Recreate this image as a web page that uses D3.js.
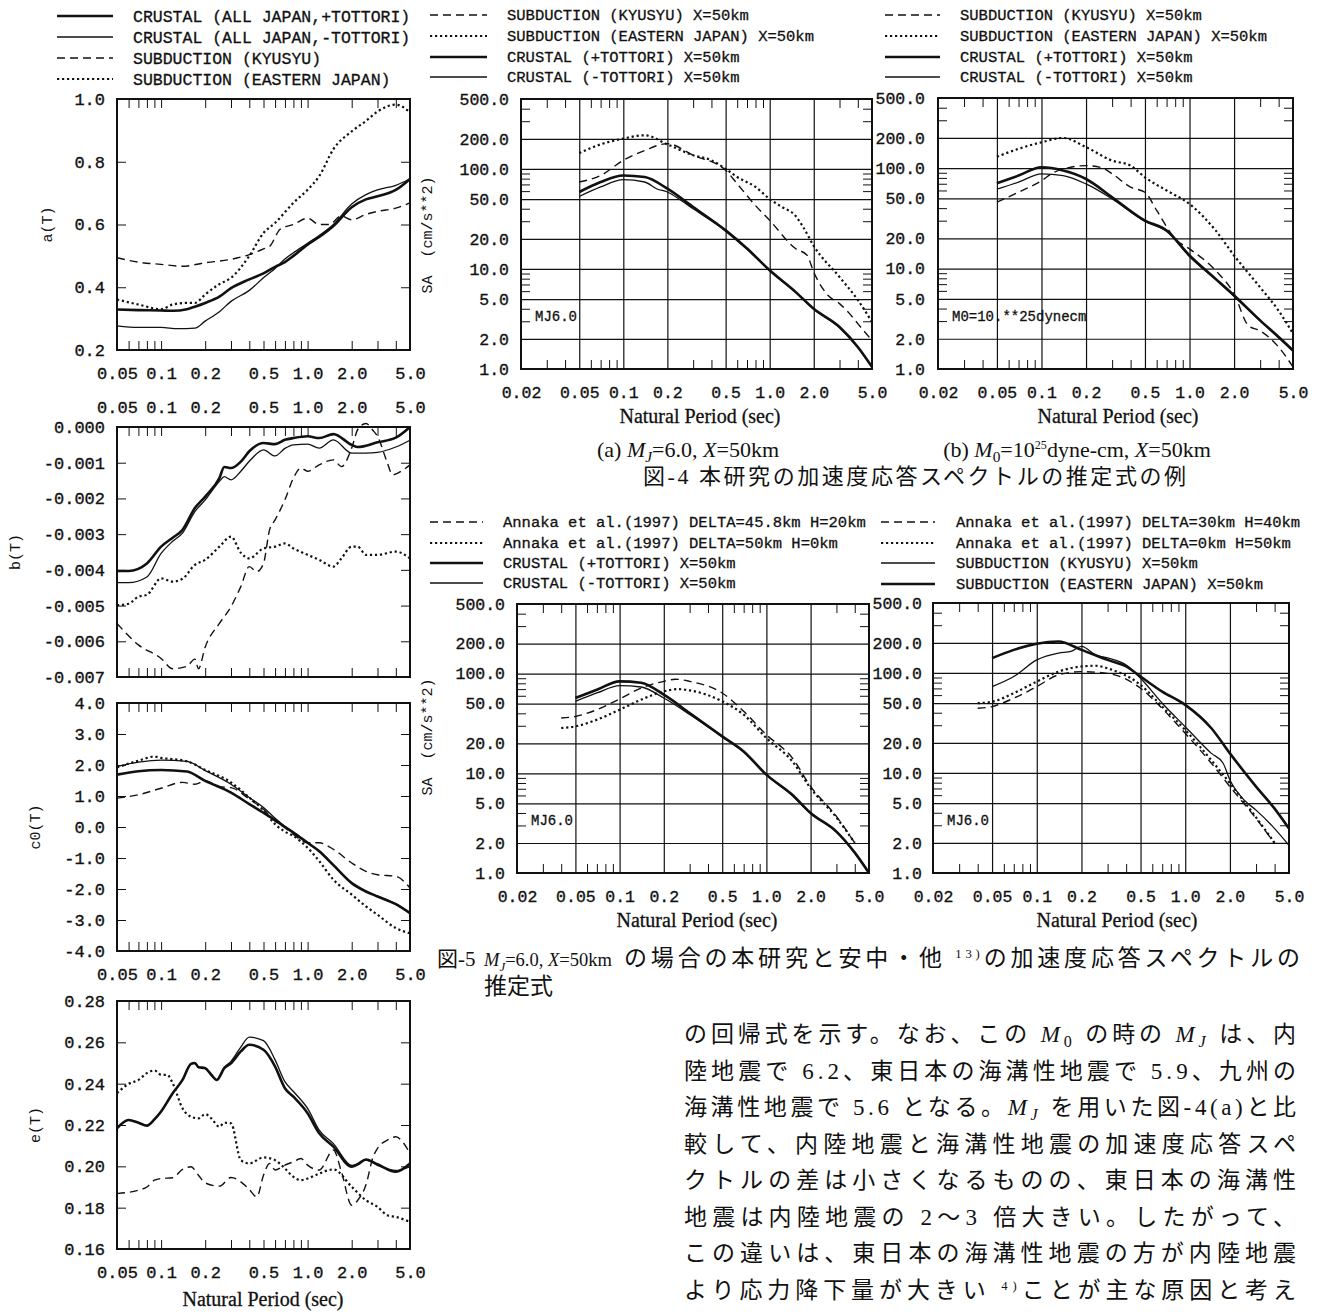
<!DOCTYPE html>
<html>
<head>
<meta charset="utf-8">
<script src="https://cdn.jsdelivr.net/npm/d3@7"></script>
<style>
  body { margin: 0; background: #fff; }
</style>
</head>
<body>
<div id="chart"></div>
<script>
// tick values and labels
const leftPeriodTicks = [0.05, 0.1, 0.2, 0.5, 1.0, 2.0, 5.0]
const leftPeriodLabels = ["0.05", "0.1", "0.2", "0.5", "1.0", "2.0", "5.0"]
const saPeriodTicks = [0.02, 0.05, 0.1, 0.2, 0.5, 1.0, 2.0, 5.0]
const saPeriodLabels = ["0.02", "0.05", "0.1", "0.2", "0.5", "1.0", "2.0", "5.0"]
const saGridPeriods = [0.05, 0.1, 0.2, 0.5, 1.0, 2.0]
const saValueTicks = [1, 2, 5, 10, 20, 50, 100, 200, 500]
const saValueLabels = ["1.0", "2.0", "5.0", "10.0", "20.0", "50.0", "100.0", "200.0", "500.0"]
const saGridValues = [2, 5, 10, 20, 50, 100, 200]

const aTicks = [0.2, 0.4, 0.6, 0.8, 1.0]
const aLabels = ["0.2", "0.4", "0.6", "0.8", "1.0"]
const bTicks = [-0.007, -0.006, -0.005, -0.004, -0.003, -0.002, -0.001, 0]
const bLabels = ["-0.007", "-0.006", "-0.005", "-0.004", "-0.003", "-0.002", "-0.001", "0.000"]
const c0Ticks = [-4, -3, -2, -1, 0, 1, 2, 3, 4]
const c0Labels = ["-4.0", "-3.0", "-2.0", "-1.0", "0.0", "1.0", "2.0", "3.0", "4.0"]
const eTicks = [0.16, 0.18, 0.20, 0.22, 0.24, 0.26, 0.28]
const eLabels = ["0.16", "0.18", "0.20", "0.22", "0.24", "0.26", "0.28"]

// legend texts
const legendCoef = ["CRUSTAL (ALL JAPAN,+TOTTORI)", "CRUSTAL (ALL JAPAN,-TOTTORI)", "SUBDUCTION (KYUSYU)", "SUBDUCTION (EASTERN JAPAN)"]
const legendFig4 = ["SUBDUCTION (KYUSYU) X=50km", "SUBDUCTION (EASTERN JAPAN) X=50km", "CRUSTAL (+TOTTORI) X=50km", "CRUSTAL (-TOTTORI) X=50km"]
const legendFig5a = ["Annaka et al.(1997) DELTA=45.8km H=20km", "Annaka et al.(1997) DELTA=50km H=0km", "CRUSTAL (+TOTTORI) X=50km", "CRUSTAL (-TOTTORI) X=50km"]
const legendFig5b = ["Annaka et al.(1997) DELTA=30km H=40km", "Annaka et al.(1997) DELTA=0km H=50km", "SUBDUCTION (KYUSYU) X=50km", "SUBDUCTION (EASTERN JAPAN) X=50km"]

// coefficient a(T): [period, value]
const aCrusPlus = [[0.05,0.329],[0.07,0.327],[0.1,0.326],[0.12,0.325],[0.15,0.33],[0.17,0.338],[0.2,0.35],[0.25,0.37],[0.3,0.397],[0.4,0.425],[0.5,0.444],[0.6,0.465],[0.7,0.48],[0.8,0.50],[1.0,0.536],[1.2,0.56],[1.5,0.595],[2.0,0.655],[2.5,0.68],[3.0,0.69],[4.0,0.71],[5.0,0.745]]
const aCrusMinus = [[0.05,0.277],[0.07,0.272],[0.1,0.272],[0.13,0.268],[0.17,0.27],[0.2,0.292],[0.25,0.322],[0.3,0.355],[0.4,0.39],[0.5,0.43],[0.6,0.46],[0.7,0.49],[0.8,0.51],[1.0,0.54],[1.2,0.565],[1.5,0.60],[2.0,0.665],[2.5,0.695],[3.0,0.71],[4.0,0.725],[5.0,0.745]]
const aKyusyu = [[0.05,0.494],[0.07,0.48],[0.1,0.473],[0.14,0.467],[0.2,0.478],[0.3,0.489],[0.4,0.504],[0.5,0.522],[0.55,0.53],[0.65,0.585],[0.8,0.60],[1.0,0.62],[1.2,0.60],[1.4,0.60],[1.7,0.627],[2.0,0.615],[2.5,0.632],[3.0,0.642],[4.0,0.652],[5.0,0.669]]
const aEastern = [[0.05,0.361],[0.07,0.345],[0.1,0.33],[0.12,0.345],[0.15,0.35],[0.17,0.35],[0.2,0.377],[0.25,0.41],[0.3,0.43],[0.4,0.50],[0.5,0.573],[0.6,0.605],[0.8,0.669],[1.0,0.711],[1.2,0.754],[1.5,0.84],[2.0,0.897],[2.5,0.93],[3.0,0.96],[4.0,0.982],[5.0,0.958]]

// coefficient b(T)
const bCrusPlus = [[0.05,-0.00403],[0.06,-0.00403],[0.08,-0.00382],[0.1,-0.00335],[0.12,-0.0031],[0.14,-0.00288],[0.17,-0.00227],[0.2,-0.00195],[0.25,-0.00143],[0.27,-0.00112],[0.3,-0.00115],[0.35,-0.00097],[0.4,-0.00068],[0.5,-0.00045],[0.6,-0.00048],[0.7,-0.00036],[0.8,-0.00031],[1.0,-0.00026],[1.2,-0.00031],[1.5,-0.0002],[2.0,-0.0005],[2.2,-0.00056],[3.0,-0.00043],[4.0,-0.0003],[5.0,0.0]]
const bCrusMinus = [[0.05,-0.00436],[0.06,-0.00436],[0.08,-0.0042],[0.1,-0.00354],[0.12,-0.0032],[0.14,-0.00297],[0.17,-0.00237],[0.2,-0.00204],[0.25,-0.00152],[0.27,-0.00139],[0.3,-0.00148],[0.35,-0.00124],[0.4,-0.00096],[0.5,-0.00064],[0.6,-0.00081],[0.7,-0.0006],[0.8,-0.0005],[1.0,-0.00048],[1.2,-0.00059],[1.5,-0.00036],[2.0,-0.00073],[2.5,-0.00073],[3.0,-0.00071],[4.0,-0.00056],[5.0,-0.00037]]
const bKyusyu = [[0.05,-0.0055],[0.07,-0.0061],[0.1,-0.00648],[0.12,-0.00677],[0.15,-0.0067],[0.17,-0.0065],[0.18,-0.00677],[0.2,-0.00616],[0.25,-0.0055],[0.3,-0.00503],[0.35,-0.00447],[0.4,-0.00391],[0.45,-0.00405],[0.5,-0.00382],[0.55,-0.00288],[0.6,-0.0026],[0.7,-0.00204],[0.8,-0.00143],[0.9,-0.00115],[1.0,-0.00124],[1.2,-0.00106],[1.5,-0.00092],[1.7,-0.00111],[2.0,-0.00059],[2.2,-0.00007],[2.5,0.0001],[2.8,-0.0001],[3.0,-0.00026],[3.5,-0.001],[3.8,-0.00134],[4.5,-0.0012],[5.0,-0.00106]]
const bEastern = [[0.05,-0.00499],[0.06,-0.00495],[0.07,-0.00475],[0.08,-0.0047],[0.1,-0.00424],[0.12,-0.00433],[0.14,-0.00425],[0.17,-0.00386],[0.2,-0.00372],[0.25,-0.00335],[0.3,-0.00307],[0.35,-0.00352],[0.4,-0.00368],[0.5,-0.0034],[0.6,-0.00335],[0.7,-0.00326],[0.8,-0.0034],[1.0,-0.00358],[1.2,-0.00372],[1.5,-0.00391],[1.7,-0.00368],[2.0,-0.00335],[2.2,-0.00335],[2.5,-0.00358],[3.0,-0.00358],[4.0,-0.00349],[5.0,-0.00368]]

// coefficient c0(T)
const cCrusPlus = [[0.05,1.69],[0.07,1.8],[0.1,1.84],[0.15,1.79],[0.2,1.49],[0.3,1.11],[0.4,0.74],[0.5,0.46],[0.6,0.22],[0.7,0.0],[0.8,-0.18],[1.0,-0.51],[1.2,-0.78],[1.5,-1.23],[2.0,-1.81],[2.5,-2.08],[3.0,-2.24],[4.0,-2.49],[5.0,-2.78]]
const cCrusMinus = [[0.05,1.95],[0.07,2.09],[0.1,2.16],[0.15,2.12],[0.2,1.82],[0.3,1.38],[0.4,0.95],[0.5,0.63],[0.6,0.28],[0.7,0.02],[0.8,-0.17],[1.0,-0.5],[1.2,-0.77],[1.5,-1.22],[2.0,-1.8],[2.5,-2.07],[3.0,-2.23],[4.0,-2.48],[5.0,-2.77]]
const cKyusyu = [[0.05,0.93],[0.07,1.04],[0.1,1.25],[0.14,1.44],[0.17,1.38],[0.2,1.49],[0.25,1.3],[0.3,1.27],[0.4,0.9],[0.5,0.57],[0.6,0.19],[0.7,-0.02],[0.8,-0.24],[1.0,-0.51],[1.2,-0.51],[1.5,-0.72],[2.0,-1.16],[2.5,-1.43],[3.0,-1.54],[4.0,-1.59],[5.0,-1.97]]
const cEastern = [[0.05,1.92],[0.07,2.14],[0.09,2.27],[0.1,2.23],[0.15,2.12],[0.2,1.84],[0.3,1.44],[0.4,0.95],[0.5,0.54],[0.6,0.09],[0.7,-0.15],[0.8,-0.29],[1.0,-0.67],[1.2,-1.1],[1.5,-1.7],[2.0,-2.18],[2.5,-2.56],[3.0,-2.83],[4.0,-3.26],[5.0,-3.43]]

// coefficient e(T)
const eCrusPlus = [[0.05,0.2184],[0.06,0.2224],[0.07,0.2211],[0.08,0.2197],[0.09,0.2227],[0.1,0.2265],[0.12,0.2354],[0.14,0.2418],[0.16,0.2496],[0.17,0.25],[0.18,0.248],[0.2,0.2475],[0.22,0.2443],[0.24,0.2418],[0.27,0.2475],[0.3,0.2499],[0.35,0.2556],[0.4,0.2588],[0.5,0.2564],[0.6,0.2483],[0.7,0.2378],[0.8,0.2337],[1.0,0.2257],[1.2,0.216],[1.5,0.2095],[2.0,0.1998],[2.2,0.201],[2.5,0.2033],[3.0,0.201],[4.0,0.1974],[5.0,0.2014]]
const eCrusMinus = [[0.05,0.2184],[0.06,0.2224],[0.07,0.2211],[0.08,0.2197],[0.09,0.2227],[0.1,0.2265],[0.12,0.2354],[0.14,0.2418],[0.16,0.2496],[0.17,0.25],[0.18,0.248],[0.2,0.2475],[0.22,0.2443],[0.24,0.2418],[0.27,0.248],[0.3,0.2508],[0.35,0.2577],[0.4,0.2625],[0.5,0.2608],[0.6,0.2515],[0.7,0.241],[0.8,0.2362],[1.0,0.228],[1.2,0.2175],[1.5,0.211],[2.0,0.2005],[2.2,0.2012],[2.5,0.203],[3.0,0.2005],[4.0,0.198],[5.0,0.1998]]
const eKyusyu = [[0.05,0.1868],[0.07,0.1885],[0.08,0.19],[0.09,0.1933],[0.1,0.1941],[0.12,0.1945],[0.14,0.1985],[0.16,0.1998],[0.18,0.1957],[0.2,0.192],[0.25,0.1904],[0.3,0.1946],[0.35,0.1925],[0.4,0.1888],[0.45,0.1852],[0.5,0.1957],[0.55,0.2014],[0.6,0.1982],[0.7,0.2006],[0.8,0.2022],[0.9,0.2038],[1.0,0.2006],[1.2,0.1982],[1.5,0.2079],[1.7,0.1975],[2.0,0.1812],[2.2,0.1836],[2.5,0.191],[2.8,0.2046],[3.0,0.2087],[3.5,0.2127],[4.0,0.2143],[4.5,0.2114],[5.0,0.2062]]
const eEastern = [[0.05,0.2354],[0.06,0.2399],[0.07,0.2418],[0.08,0.2451],[0.09,0.2464],[0.1,0.2443],[0.11,0.2443],[0.12,0.2402],[0.14,0.2281],[0.16,0.224],[0.18,0.2232],[0.2,0.2253],[0.22,0.2232],[0.25,0.2192],[0.27,0.2211],[0.3,0.2208],[0.35,0.203],[0.4,0.2014],[0.5,0.2043],[0.6,0.203],[0.7,0.199],[0.8,0.1949],[0.9,0.1933],[1.0,0.1941],[1.2,0.1965],[1.5,0.1985],[2.0,0.1901],[2.5,0.1836],[3.0,0.1804],[3.5,0.1763],[4.0,0.1755],[5.0,0.1731]]

// fig-4 (a) MJ=6.0 spectra, SA in cm/s**2
const sa4aKyusyu = [[0.05,74],[0.07,86],[0.1,122],[0.14,153],[0.2,179],[0.3,137],[0.5,97],[0.6,71],[0.8,43],[1.0,30.6],[1.5,16],[1.8,13.7],[2.0,9.3],[2.5,5.45],[3.0,4.5],[3.5,3.6],[4.0,2.84],[5.0,1.93]]
const sa4aEastern = [[0.05,144],[0.07,176],[0.1,201],[0.14,217],[0.2,176],[0.3,137],[0.4,122],[0.5,100],[0.6,83],[0.8,66],[1.0,50],[1.2,42],[1.5,34],[1.7,26],[2.0,17],[3.0,8.3],[4.0,4.9],[5.0,2.95]]
const sa4aCrusPlus = [[0.05,58.8],[0.07,74],[0.1,86],[0.14,83],[0.2,63.5],[0.3,41.6],[0.5,24.3],[0.7,16],[1.0,9.7],[1.5,5.9],[2.0,4.0],[3.0,2.63],[4.0,1.66],[5.0,1.05]]
const sa4aCrusMinus = [[0.05,53],[0.07,66],[0.1,78],[0.14,74],[0.17,63],[0.2,58.8],[0.25,48],[0.3,40],[0.5,24],[0.7,15.8],[1.0,9.6],[1.5,5.85],[2.0,3.95],[3.0,2.6],[4.0,1.64],[5.0,1.04]]

// fig-4 (b) M0=10**25 dyne-cm spectra
const sa4bKyusyu = [[0.05,45.8],[0.07,57.6],[0.1,75],[0.12,90],[0.14,98],[0.2,106],[0.25,102],[0.3,88],[0.4,64.6],[0.5,57.6],[0.6,38],[0.8,19.8],[1.0,15.7],[1.5,9.6],[2.0,5.6],[2.5,2.7],[3.0,2.4],[4.0,1.65],[5.0,1.05]]
const sa4bEastern = [[0.05,130],[0.07,156],[0.1,181],[0.14,200],[0.2,162],[0.3,119],[0.4,106],[0.5,81],[0.7,60],[1.0,44],[1.5,24],[2.0,13.5],[3.0,6.5],[4.0,3.8],[5.0,2.25]]
const sa4bCrusPlus = [[0.05,70.8],[0.07,84.4],[0.1,102],[0.14,94.6],[0.2,78],[0.3,51.4],[0.5,30.1],[0.7,24],[1.0,13.5],[1.5,7.9],[2.0,5.4],[3.0,3.05],[4.0,2.08],[5.0,1.53]]
const sa4bCrusMinus = [[0.05,62],[0.07,72.6],[0.1,87.7],[0.14,84.4],[0.2,69.7],[0.3,49.5],[0.5,29.5],[0.7,23.5],[1.0,13.2],[1.5,7.8],[2.0,5.3],[3.0,3.0],[4.0,2.05],[5.0,1.5]]

// fig-5 crustal comparison with Annaka et al.
const sa5aAnnaka1 = [[0.04,35.9],[0.05,37.2],[0.07,43.5],[0.1,55.7],[0.14,71.8],[0.2,83.7],[0.24,88],[0.3,83.7],[0.5,64],[0.7,41.9],[1.0,24.4],[1.5,14.3],[2.0,7.4],[3.0,3.7],[4.0,2.0]]
const sa5aAnnaka2 = [[0.04,28.5],[0.05,29.6],[0.07,34.5],[0.1,43.5],[0.14,54.8],[0.2,66.5],[0.25,70],[0.3,68],[0.5,52.8],[0.7,38.8],[1.0,22.6],[1.5,13.2],[2.0,7.1],[3.0,3.6],[4.0,2.0]]
const sa5aCrusPlus = [[0.05,57],[0.07,69],[0.1,83.7],[0.14,81],[0.2,61.5],[0.3,40.3],[0.5,23.5],[0.7,16.6],[1.0,9.7],[1.5,6.1],[2.0,4.0],[3.0,2.6],[4.0,1.6],[5.0,1.0]]
const sa5aCrusMinus = [[0.05,52.7],[0.07,64],[0.1,75.8],[0.14,73.5],[0.2,57],[0.3,39],[0.5,23.2],[0.7,16.4],[1.0,9.6],[1.5,6.0],[2.0,3.95],[3.0,2.58],[4.0,1.58],[5.0,1.0]]

// fig-5 subduction comparison with Annaka et al.
const sa5bAnnaka1 = [[0.04,44.3],[0.05,46.1],[0.07,55.9],[0.1,73],[0.14,95.7],[0.2,103],[0.3,99],[0.5,70.3],[0.7,44],[1.0,24.9],[1.5,12.5],[2.0,7.3],[3.0,3.5],[4.0,1.97]]
const sa5bAnnaka2 = [[0.04,49.8],[0.05,51.5],[0.07,62.7],[0.1,82],[0.14,103],[0.2,116],[0.25,118],[0.3,111],[0.5,75.9],[0.7,46],[1.0,26.9],[1.5,13.4],[2.0,7.9],[3.0,3.6],[4.0,2.0]]
const sa5bKyusyu = [[0.05,73],[0.07,92],[0.1,135],[0.14,158],[0.17,164],[0.2,184],[0.25,151],[0.3,141],[0.4,120],[0.5,88.5],[0.7,49.8],[1.0,29],[1.5,15.7],[1.8,12.5],[2.0,8.5],[2.5,5.35],[3.0,4.25],[4.0,2.78],[5.0,1.89]]
const sa5bEastern = [[0.05,140.6],[0.07,170],[0.1,196],[0.14,206],[0.2,170],[0.3,135],[0.4,116],[0.5,92],[0.7,65],[1.0,47.9],[1.5,28],[2.0,15.7],[3.0,7.3],[4.0,4.4],[5.0,2.78]]

// text of the page
const paraLines = [
  [["の回帰式を示す。なお、この "], ["M", "it"], ["0", "sub"], [" の時の "], ["M", "it"], ["J", "itsub"], [" は、内"]],
  [["陸地震で 6.2、東日本の海溝性地震で 5.9、九州の"]],
  [["海溝性地震で 5.6 となる。"], ["M", "it"], ["J", "itsub"], [" を用いた図-4(a)と比"]],
  [["較して、内陸地震と海溝性地震の加速度応答スペ"]],
  [["クトルの差は小さくなるものの、東日本の海溝性"]],
  [["地震は内陸地震の 2〜3 倍大きい。したがって、"]],
  [["この違いは、東日本の海溝性地震の方が内陸地震"]],
  [["より応力降下量が大きい "], ["4)", "sup"], ["ことが主な原因と考え"]]
]

const mono = "'Liberation Mono', 'DejaVu Sans Mono', monospace"
const serif = "'Liberation Serif', 'Noto Sans CJK JP', serif"
const ink = "#111"

const lineKinds = {
  thick: {w: 2.6, dash: null},
  thin: {w: 1.3, dash: null},
  dashed: {w: 1.4, dash: "8,5"},
  dotted: {w: 2.2, dash: "2.2,2.8"}
}

// append the svg object to the body of the page
const svg = d3.select("#chart")
  .append("svg")
    .attr("width", 1321)
    .attr("height", 1314)
    .style("background", "#fff")

function styleLine(sel, kind) {
  const k = lineKinds[kind]
  sel.attr("fill", "none")
    .attr("stroke", ink)
    .attr("stroke-width", k.w)
    .attr("stroke-dasharray", k.dash)
    .attr("stroke-linejoin", "round")
}

function sameLog(a, b) { return Math.abs(Math.log10(a) - Math.log10(b)) < 1e-6 }

function cleanAxis(g, font, size) {
  g.select(".domain").remove()
  g.attr("font-family", font).attr("font-size", size)
  g.selectAll("line").attr("stroke", ink)
  g.selectAll("text").attr("fill", ink).attr("stroke", ink).attr("stroke-width", 0.35)
}

function drawLegend(lx, tx, ys, texts, kinds, size) {
  texts.forEach((t, i) => {
    styleLine(svg.append("line")
      .attr("x1", lx[0]).attr("x2", lx[1])
      .attr("y1", ys[i]).attr("y2", ys[i]), kinds[i])
    svg.append("text")
      .attr("x", tx).attr("y", ys[i])
      .attr("dy", "0.35em")
      .attr("font-family", mono).attr("font-size", size)
      .attr("fill", ink).attr("stroke", ink).attr("stroke-width", 0.3)
      .text(t)
  })
}

// a coefficient panel, linear y over log period
function drawCoef(p) {
  const x = d3.scaleLog().domain([0.05, 5]).range([p.x0, p.x1])
  const y = d3.scaleLinear().domain(p.domain).range([p.y1, p.y0])
  const inner = x.ticks().filter(t => !sameLog(t, 0.05) && !sameLog(t, 5))
  const yInner = p.ticks.slice(1, -1)

  // inward ticks on all four sides
  svg.append("g").attr("transform", `translate(0, ${p.y1})`)
    .call(d3.axisBottom(x).tickValues(inner).tickSize(-9).tickFormat(""))
    .call(g => cleanAxis(g, mono, 16))
  svg.append("g").attr("transform", `translate(0, ${p.y0})`)
    .call(d3.axisTop(x).tickValues(inner).tickSize(-9).tickFormat(""))
    .call(g => cleanAxis(g, mono, 16))
  svg.append("g").attr("transform", `translate(${p.x0}, 0)`)
    .call(d3.axisLeft(y).tickValues(yInner).tickSize(-9).tickFormat(""))
    .call(g => cleanAxis(g, mono, 16))
  svg.append("g").attr("transform", `translate(${p.x1}, 0)`)
    .call(d3.axisRight(y).tickValues(yInner).tickSize(-9).tickFormat(""))
    .call(g => cleanAxis(g, mono, 16))

  // value labels
  svg.append("g").attr("transform", `translate(${p.x0}, 0)`)
    .call(d3.axisLeft(y).tickValues(p.ticks).tickSize(0).tickPadding(12)
      .tickFormat((d, i) => p.labels[i]))
    .call(g => cleanAxis(g, mono, 17))

  // period labels
  if (p.below) {
    svg.append("g").attr("transform", `translate(0, ${p.y1})`)
      .call(d3.axisBottom(x).tickValues(leftPeriodTicks).tickSize(0).tickPadding(17)
        .tickFormat((d, i) => leftPeriodLabels[i]))
      .call(g => cleanAxis(g, mono, 17))
  }
  if (p.above) {
    svg.append("g").attr("transform", `translate(0, ${p.y0})`)
      .call(d3.axisTop(x).tickValues(leftPeriodTicks).tickSize(0).tickPadding(14)
        .tickFormat((d, i) => leftPeriodLabels[i]))
      .call(g => cleanAxis(g, mono, 17))
  }

  // curves
  p.series.forEach((s, i) => {
    svg.append("path")
      .datum(s)
      .attr("d", d3.line()
        .curve(d3.curveMonotoneX)
        .x(d => x(d[0]))
        .y(d => y(d[1])))
      .call(sel => styleLine(sel, p.kinds[i]))
  })

  // frame
  svg.append("rect")
    .attr("x", p.x0).attr("y", p.y0)
    .attr("width", p.x1 - p.x0).attr("height", p.y1 - p.y0)
    .attr("fill", "none").attr("stroke", ink).attr("stroke-width", 2)

  // y title
  svg.append("text")
    .attr("transform", `translate(${p.titleX}, ${(p.y0 + p.y1) / 2}) rotate(-90)`)
    .attr("text-anchor", "middle").attr("dy", "0.35em")
    .attr("font-family", mono).attr("font-size", 15).attr("fill", ink)
    .text(p.title)
}

// an acceleration response spectrum panel, log-log with grid
function drawSA(p) {
  const x = d3.scaleLog().domain([0.02, 5]).range([p.x0, p.x1])
  const y = d3.scaleLog().domain([1, 500]).range([p.y1, p.y0])
  const xMinor = x.ticks().filter(t => !sameLog(t, 0.02) && !sameLog(t, 5) && !saGridPeriods.some(g => sameLog(g, t)))
  const yMinor = y.ticks().filter(t => !sameLog(t, 1) && !sameLog(t, 500) && !saGridValues.some(g => sameLog(g, t)))
  const w = p.x1 - p.x0, h = p.y1 - p.y0

  // grid
  svg.append("g").attr("transform", `translate(0, ${p.y1})`)
    .call(d3.axisBottom(x).tickValues(saGridPeriods).tickSize(-h).tickFormat(""))
    .call(g => cleanAxis(g, mono, 16))
    .selectAll("line").attr("stroke-width", 1.2)
  svg.append("g").attr("transform", `translate(${p.x0}, 0)`)
    .call(d3.axisLeft(y).tickValues(saGridValues).tickSize(-w).tickFormat(""))
    .call(g => cleanAxis(g, mono, 16))
    .selectAll("line").attr("stroke-width", 1.2)

  // minor ticks on all four sides
  svg.append("g").attr("transform", `translate(0, ${p.y1})`)
    .call(d3.axisBottom(x).tickValues(xMinor).tickSize(-9).tickFormat(""))
    .call(g => cleanAxis(g, mono, 16))
  svg.append("g").attr("transform", `translate(0, ${p.y0})`)
    .call(d3.axisTop(x).tickValues(xMinor).tickSize(-9).tickFormat(""))
    .call(g => cleanAxis(g, mono, 16))
  svg.append("g").attr("transform", `translate(${p.x0}, 0)`)
    .call(d3.axisLeft(y).tickValues(yMinor).tickSize(-9).tickFormat(""))
    .call(g => cleanAxis(g, mono, 16))
  svg.append("g").attr("transform", `translate(${p.x1}, 0)`)
    .call(d3.axisRight(y).tickValues(yMinor).tickSize(-9).tickFormat(""))
    .call(g => cleanAxis(g, mono, 16))

  // labels
  svg.append("g").attr("transform", `translate(${p.x0}, 0)`)
    .call(d3.axisLeft(y).tickValues(saValueTicks).tickSize(0).tickPadding(p.pad)
      .tickFormat((d, i) => saValueLabels[i]))
    .call(g => cleanAxis(g, mono, 16.5))
  svg.append("g").attr("transform", `translate(0, ${p.y1})`)
    .call(d3.axisBottom(x).tickValues(saPeriodTicks).tickSize(0).tickPadding(17)
      .tickFormat((d, i) => saPeriodLabels[i]))
    .call(g => cleanAxis(g, mono, 16.5))

  // curves
  p.series.forEach((s, i) => {
    svg.append("path")
      .datum(s)
      .attr("d", d3.line()
        .curve(d3.curveMonotoneX)
        .x(d => x(d[0]))
        .y(d => y(d[1])))
      .call(sel => styleLine(sel, p.kinds[i]))
  })

  // frame
  svg.append("rect")
    .attr("x", p.x0).attr("y", p.y0)
    .attr("width", w).attr("height", h)
    .attr("fill", "none").attr("stroke", ink).attr("stroke-width", 2)

  // magnitude note inside the plot
  svg.append("text")
    .attr("x", p.x0 + 14).attr("y", y(3.4))
    .attr("dy", "0.35em")
    .attr("font-family", mono).attr("font-size", 14).attr("fill", ink)
    .attr("stroke", ink).attr("stroke-width", 0.3)
    .text(p.note)

  // x title
  svg.append("text")
    .attr("x", p.titleX).attr("y", p.y1 + 54)
    .attr("text-anchor", "middle")
    .attr("font-family", serif).attr("font-size", 20)
    .attr("fill", ink).attr("stroke", ink).attr("stroke-width", 0.3)
    .text("Natural Period (sec)")
}

// rich text with italic letters, subscripts and superscripts
function richText(sel, segs) {
  let shift = 0
  segs.forEach(s => {
    const t = sel.append("tspan").text(s[0])
    let want = 0
    if (s[1] === "it") t.attr("font-style", "italic")
    if (s[1] === "sub") { want = 5; t.attr("font-size", "0.7em") }
    if (s[1] === "itsub") { want = 5; t.attr("font-size", "0.7em").attr("font-style", "italic") }
    if (s[1] === "sup") { want = -8; t.attr("font-size", "0.55em") }
    if (want !== shift) { t.attr("dy", want - shift); shift = want }
  })
}

// coefficient panels
drawCoef({x0: 117, x1: 410, y0: 99, y1: 350, domain: [0.2, 1.0], ticks: aTicks, labels: aLabels,
  title: "a(T)", titleX: 47, below: true, series: [aCrusPlus, aCrusMinus, aKyusyu, aEastern],
  kinds: ["thick", "thin", "dashed", "dotted"]})
drawCoef({x0: 117, x1: 410, y0: 427, y1: 677, domain: [-0.007, 0], ticks: bTicks, labels: bLabels,
  title: "b(T)", titleX: 15, above: true, series: [bCrusPlus, bCrusMinus, bKyusyu, bEastern],
  kinds: ["thick", "thin", "dashed", "dotted"]})
drawCoef({x0: 117, x1: 410, y0: 703, y1: 951, domain: [-4, 4], ticks: c0Ticks, labels: c0Labels,
  title: "c0(T)", titleX: 35, below: true, series: [cCrusPlus, cCrusMinus, cKyusyu, cEastern],
  kinds: ["thick", "thin", "dashed", "dotted"]})
drawCoef({x0: 117, x1: 410, y0: 1001, y1: 1249, domain: [0.16, 0.28], ticks: eTicks, labels: eLabels,
  title: "e(T)", titleX: 35, below: true, series: [eCrusPlus, eCrusMinus, eKyusyu, eEastern],
  kinds: ["thick", "thin", "dashed", "dotted"]})

svg.append("text")
  .attr("x", 263).attr("y", 1306).attr("text-anchor", "middle")
  .attr("font-family", serif).attr("font-size", 20)
  .attr("fill", ink).attr("stroke", ink).attr("stroke-width", 0.3)
  .text("Natural Period (sec)")

drawLegend([57, 113], 133, [16, 37, 58, 79], legendCoef, ["thick", "thin", "dashed", "dotted"], 16.5)

// spectra panels
drawSA({x0: 521, x1: 872, y0: 99, y1: 369, pad: 12, titleX: 700, note: "MJ6.0",
  series: [sa4aKyusyu, sa4aEastern, sa4aCrusPlus, sa4aCrusMinus], kinds: ["dashed", "dotted", "thick", "thin"]})
drawSA({x0: 938, x1: 1293, y0: 98, y1: 369, pad: 13, titleX: 1118, note: "M0=10.**25dynecm",
  series: [sa4bKyusyu, sa4bEastern, sa4bCrusPlus, sa4bCrusMinus], kinds: ["dashed", "dotted", "thick", "thin"]})
drawSA({x0: 517, x1: 869, y0: 604, y1: 873, pad: 12, titleX: 697, note: "MJ6.0",
  series: [sa5aAnnaka1, sa5aAnnaka2, sa5aCrusPlus, sa5aCrusMinus], kinds: ["dashed", "dotted", "thick", "thin"]})
drawSA({x0: 933, x1: 1289, y0: 603, y1: 873, pad: 11, titleX: 1117, note: "MJ6.0",
  series: [sa5bAnnaka1, sa5bAnnaka2, sa5bKyusyu, sa5bEastern], kinds: ["dashed", "dotted", "thin", "thick"]})

drawLegend([430, 487], 507, [15, 36, 57, 77], legendFig4, ["dashed", "dotted", "thick", "thin"], 15.5)
drawLegend([885, 940], 960, [15, 36, 57, 77], legendFig4, ["dashed", "dotted", "thick", "thin"], 15.5)
drawLegend([430, 483], 503, [522, 543, 563, 583], legendFig5a, ["dashed", "dotted", "thick", "thin"], 15.5)
drawLegend([881, 935], 956, [522, 543, 563, 584], legendFig5b, ["dashed", "dotted", "thin", "thick"], 15.5)

// SA axis titles
;[235, 737].forEach(cy => {
  svg.append("text")
    .attr("transform", `translate(427, ${cy}) rotate(-90)`)
    .attr("text-anchor", "middle").attr("dy", "0.35em")
    .attr("font-family", mono).attr("font-size", 15).attr("fill", ink)
    .attr("xml:space", "preserve")
    .text("SA  (cm/s**2)")
})

// figure captions
const capA = svg.append("text").attr("x", 688).attr("y", 457).attr("text-anchor", "middle")
  .attr("font-family", serif).attr("font-size", 22).attr("fill", ink)
richText(capA, [["(a) "], ["M", "it"], ["J", "itsub"], ["=6.0, "], ["X", "it"], ["=50km"]])

const capB = svg.append("text").attr("x", 1077).attr("y", 457).attr("text-anchor", "middle")
  .attr("font-family", serif).attr("font-size", 22).attr("fill", ink)
richText(capB, [["(b) "], ["M", "it"], ["0", "sub"], ["=10"], ["25", "sup"], ["dyne-cm, "], ["X", "it"], ["=50km"]])

svg.append("text").attr("x", 643).attr("y", 484)
  .attr("font-family", serif).attr("font-size", 22).attr("fill", ink)
  .attr("textLength", 543).attr("lengthAdjust", "spacing")
  .text("図-4 本研究の加速度応答スペクトルの推定式の例")

svg.append("text").attr("x", 437).attr("y", 966)
  .attr("font-family", serif).attr("font-size", 21).attr("fill", ink)
  .text("図-5")
const cap5a = svg.append("text").attr("x", 484).attr("y", 966)
  .attr("font-family", serif).attr("font-size", 18.5).attr("fill", ink)
richText(cap5a, [["M", "it"], ["J", "itsub"], ["=6.0, "], ["X", "it"], ["=50km"]])
const cap5b = svg.append("text").attr("x", 624).attr("y", 966)
  .attr("font-family", serif).attr("font-size", 23).attr("fill", ink)
  .attr("textLength", 676).attr("lengthAdjust", "spacing")
richText(cap5b, [["の場合の本研究と安中・他 "], ["13)", "sup"], ["の加速度応答スペクトルの"]])
svg.append("text").attr("x", 484).attr("y", 994)
  .attr("font-family", serif).attr("font-size", 23).attr("fill", ink)
  .text("推定式")

// body text
paraLines.forEach((segs, i) => {
  const t = svg.append("text")
    .attr("x", 684).attr("y", 1042 + i * 36.5)
    .attr("font-family", serif).attr("font-size", 23).attr("fill", ink)
    .attr("textLength", 612).attr("lengthAdjust", "spacing")
  richText(t, segs)
})
</script>
</body>
</html>
